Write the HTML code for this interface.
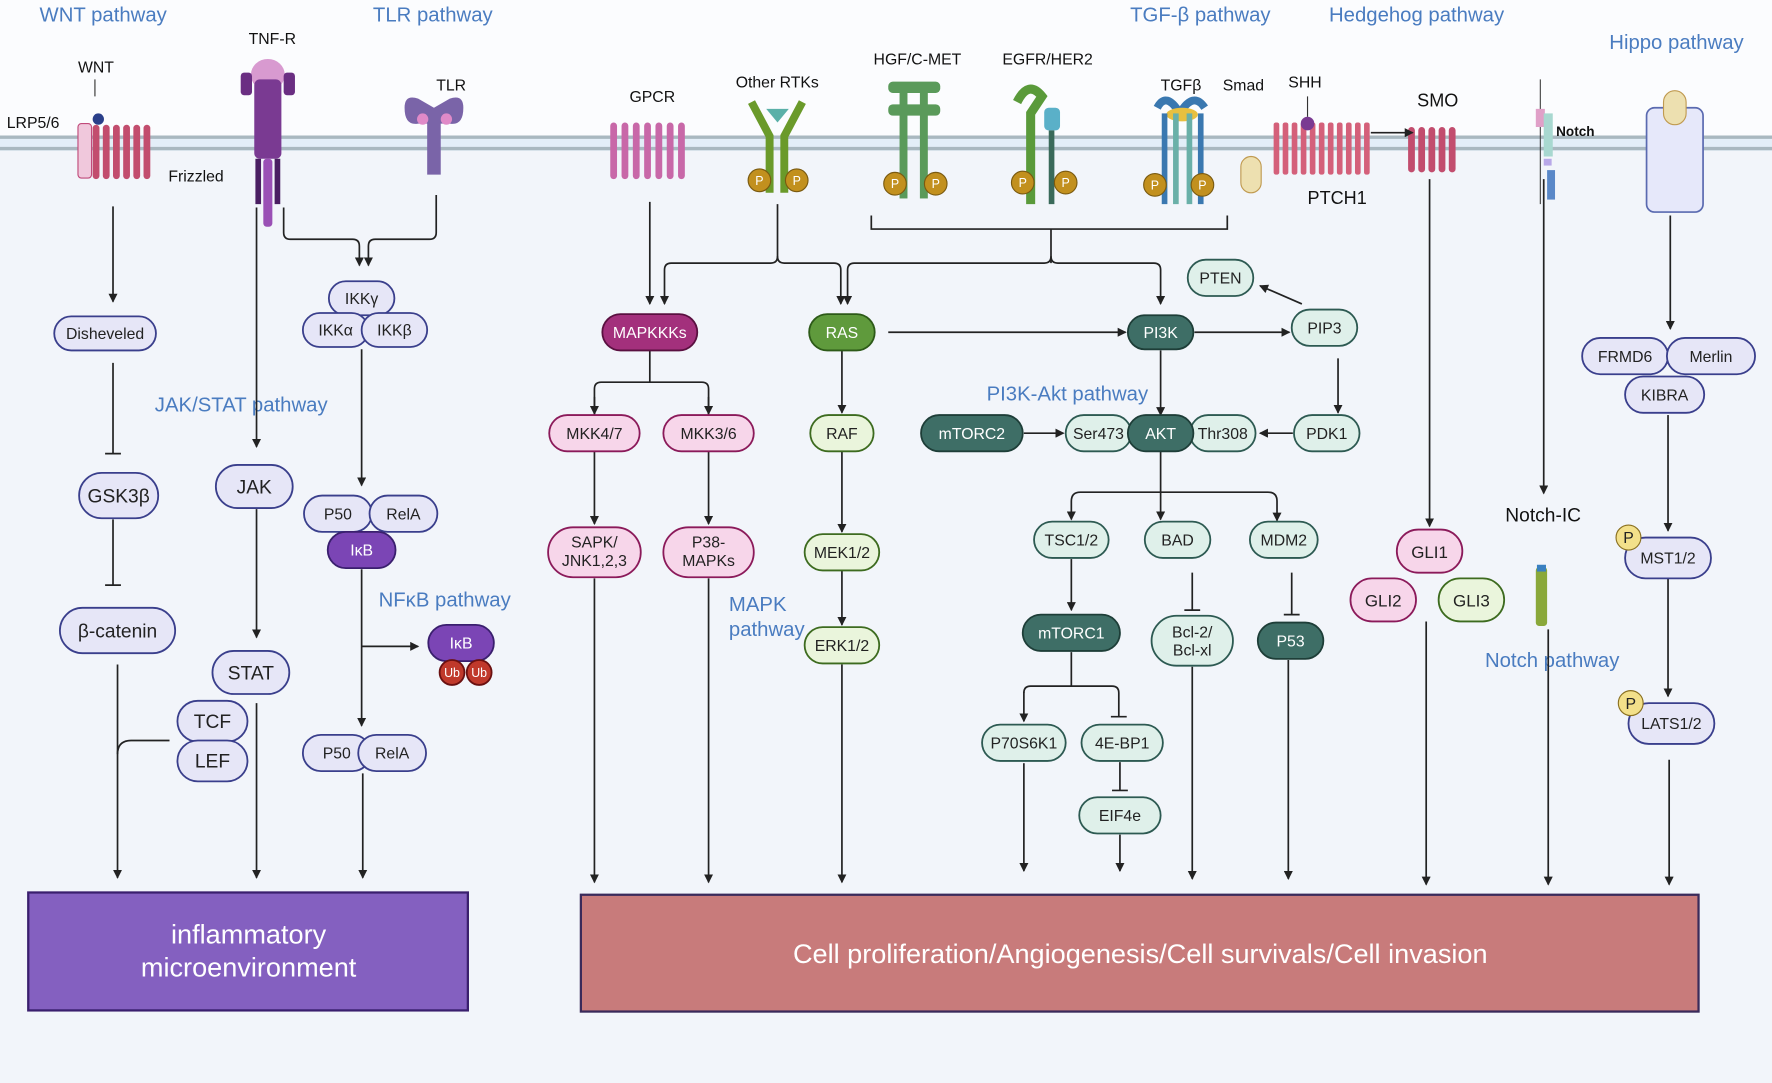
<!DOCTYPE html>
<html><head><meta charset="utf-8"><style>
html,body{margin:0;padding:0;background:#fff}
svg{display:block}
text{font-family:"Liberation Sans",sans-serif}
</style></head><body>
<svg width="1772" height="1083" viewBox="0 0 1568 955" preserveAspectRatio="none" xmlns="http://www.w3.org/2000/svg">
<defs>
<marker id="a" markerWidth="8" markerHeight="8" refX="7" refY="4" orient="auto" markerUnits="userSpaceOnUse"><path d="M0,0 L8,4 L0,8 z" fill="#222"/></marker>
</defs>
<rect x="0" y="0" width="1568" height="955" fill="#fbfcfe"/>
<rect x="0" y="131" width="1568" height="824" fill="#f2f5fa"/>
<rect x="0" y="121" width="1568" height="12" fill="#e3eef8"/>
<line x1="0" y1="121" x2="1568" y2="121" stroke="#a9b8c0" stroke-width="3"/>
<line x1="0" y1="131" x2="1568" y2="131" stroke="#a9b8c0" stroke-width="3"/>

<!-- pathway titles -->
<g fill="#4a7cc0" font-size="18">
<text x="35" y="19">WNT pathway</text>
<text x="330" y="19">TLR  pathway</text>
<text x="1000" y="19">TGF-β  pathway</text>
<text x="1176" y="19">Hedgehog pathway</text>
<text x="1424" y="43">Hippo pathway</text>
<text x="137" y="363">JAK/STAT  pathway</text>
<text x="335" y="535">NFκB  pathway</text>
<text x="645" y="539">MAPK</text>
<text x="645" y="561">pathway</text>
<text x="873" y="353">PI3K-Akt pathway</text>
<text x="1314" y="588">Notch  pathway</text>
</g>
<g fill="#111" font-size="14">
<text x="69" y="64">WNT</text>
<text x="220" y="39">TNF-R</text>
<text x="6" y="113">LRP5/6</text>
<text x="149" y="160">Frizzled</text>
<text x="386" y="80">TLR</text>
<text x="557" y="90">GPCR</text>
<text x="651" y="77">Other RTKs</text>
<text x="773" y="57">HGF/C-MET</text>
<text x="887" y="57">EGFR/HER2</text>
<text x="1027" y="80">TGFβ</text>
<text x="1082" y="80">Smad</text>
<text x="1140" y="77">SHH</text>
<text x="1254" y="94" font-size="16">SMO</text>
<text x="1157" y="180" font-size="16">PTCH1</text>
<text x="1377" y="120" font-size="12" font-weight="bold">Notch</text>
<text x="1469" y="139" font-size="15">FAT</text>
<text x="1471" y="156" font-size="15">1-4</text>
<text x="1332" y="460" font-size="17">Notch-IC</text>
</g>

<!-- receptors (simplified) -->
<g>
<rect x="69" y="109" width="12" height="48" rx="3" fill="#f0c8dc" stroke="#c04a7a"/>
<g fill="#c24d6e"><rect x="82" y="110" width="6" height="48" rx="3"/><rect x="91" y="110" width="6" height="48" rx="3"/><rect x="100" y="110" width="6" height="48" rx="3"/><rect x="109" y="110" width="6" height="48" rx="3"/><rect x="118" y="110" width="6" height="48" rx="3"/><rect x="127" y="110" width="6" height="48" rx="3"/></g>
<circle cx="87" cy="105" r="5" fill="#2a3f8a"/>
<line x1="84" y1="70" x2="84" y2="85" stroke="#333"/>
<ellipse cx="237" cy="66" rx="15" ry="14" fill="#d89ad0"/>
<rect x="225" y="70" width="24" height="70" rx="5" fill="#7a3a92"/>
<rect x="213" y="64" width="10" height="20" rx="3" fill="#6a2e82"/><rect x="251" y="64" width="10" height="20" rx="3" fill="#6a2e82"/>
<rect x="226" y="140" width="5" height="40" fill="#4a1e62"/><rect x="243" y="140" width="5" height="40" fill="#4a1e62"/><rect x="233" y="140" width="8" height="60" rx="3" fill="#9a50b5"/>
<path d="M358,95 q0,-12 12,-8 l14,8 l14,-8 q12,-4 12,8 q0,16 -12,14 l-8,0 l0,45 l-12,0 l0,-45 l-8,0 q-12,2 -12,-14z" fill="#7a64a8"/>
<circle cx="374" cy="105" r="5" fill="#e08ac8"/><circle cx="395" cy="105" r="5" fill="#e08ac8"/>
<g fill="#c868a8"><rect x="540" y="108" width="6" height="50" rx="3"/><rect x="550" y="108" width="6" height="50" rx="3"/><rect x="560" y="108" width="6" height="50" rx="3"/><rect x="570" y="108" width="6" height="50" rx="3"/><rect x="580" y="108" width="6" height="50" rx="3"/><rect x="590" y="108" width="6" height="50" rx="3"/><rect x="600" y="108" width="6" height="50" rx="3"/></g>
<path d="M665,90 l16,30 l0,50 M710,90 l-16,30 l0,50" stroke="#6a9a2a" stroke-width="7" fill="none"/>
<path d="M678,96 l20,0 l-10,12z" fill="#5ab0a8"/>
<circle cx="672" cy="159" r="10" fill="#c2901e" stroke="#7a5a10"/><circle cx="705" cy="159" r="10" fill="#c2901e" stroke="#7a5a10"/>
<g fill="#5a9a5a"><rect x="786" y="72" width="46" height="10" rx="4"/><rect x="786" y="92" width="46" height="10" rx="4"/><rect x="796" y="80" width="7" height="95"/><rect x="814" y="80" width="7" height="95"/></g>
<circle cx="792" cy="162" r="10" fill="#c2901e" stroke="#7a5a10"/><circle cx="828" cy="162" r="10" fill="#c2901e" stroke="#7a5a10"/>
<path d="M900,90 q10,-20 22,-5 l-10,15 l0,80" stroke="#5a9a3a" stroke-width="8" fill="none"/>
<rect x="924" y="95" width="14" height="20" rx="4" fill="#5ab0c8"/><rect x="928" y="115" width="5" height="65" fill="#3a6a5a"/>
<circle cx="905" cy="161" r="10" fill="#c2901e" stroke="#7a5a10"/><circle cx="943" cy="161" r="10" fill="#c2901e" stroke="#7a5a10"/>
<path d="M1024,95 q8,-15 20,5 q12,-20 22,-5" stroke="#3a78b0" stroke-width="7" fill="none"/>
<ellipse cx="1046" cy="101" rx="14" ry="6" fill="#e8c040"/>
<g fill="#3a78b0"><rect x="1028" y="100" width="5" height="80"/><rect x="1060" y="100" width="5" height="80"/></g><g fill="#6ab0a8"><rect x="1038" y="100" width="5" height="80"/><rect x="1050" y="100" width="5" height="80"/></g>
<circle cx="1022" cy="163" r="10" fill="#c2901e" stroke="#7a5a10"/><circle cx="1064" cy="163" r="10" fill="#c2901e" stroke="#7a5a10"/>
<rect x="1098" y="138" width="18" height="32" rx="9" fill="#ede0b0" stroke="#c09a50"/>
<g fill="#d4607a"><rect x="1127" y="108" width="5" height="46" rx="2"/><rect x="1135" y="108" width="5" height="46" rx="2"/><rect x="1143" y="108" width="5" height="46" rx="2"/><rect x="1151" y="108" width="5" height="46" rx="2"/><rect x="1159" y="108" width="5" height="46" rx="2"/><rect x="1167" y="108" width="5" height="46" rx="2"/><rect x="1175" y="108" width="5" height="46" rx="2"/><rect x="1183" y="108" width="5" height="46" rx="2"/><rect x="1191" y="108" width="5" height="46" rx="2"/><rect x="1199" y="108" width="5" height="46" rx="2"/><rect x="1207" y="108" width="5" height="46" rx="2"/></g>
<circle cx="1157" cy="109" r="6" fill="#7a3a92"/><line x1="1157" y1="85" x2="1157" y2="103" stroke="#333"/>
<g fill="#c24d6e"><rect x="1246" y="112" width="6" height="40" rx="3"/><rect x="1255" y="112" width="6" height="40" rx="3"/><rect x="1264" y="112" width="6" height="40" rx="3"/><rect x="1273" y="112" width="6" height="40" rx="3"/><rect x="1282" y="112" width="6" height="40" rx="3"/></g>
<line x1="1213" y1="117" x2="1250" y2="117" stroke="#222" stroke-width="1.5" marker-end="url(#a)"/>
<line x1="1363" y1="70" x2="1363" y2="180" stroke="#444"/>
<rect x="1359" y="96" width="8" height="16" fill="#e0a0c8"/><rect x="1366" y="100" width="8" height="38" fill="#a8d8d0"/><rect x="1366" y="140" width="7" height="6" fill="#b8a8e8"/><rect x="1369" y="150" width="7" height="26" fill="#5a88c8"/>
<rect x="1457" y="95" width="50" height="92" rx="7" fill="#e6e8fa" stroke="#5a6ab0" stroke-width="1.5"/>
<rect x="1472" y="80" width="20" height="30" rx="10" fill="#ede0b0" stroke="#c09a50"/>
<rect x="1359" y="500" width="10" height="52" rx="3" fill="#8aa83a"/><rect x="1360" y="498" width="8" height="6" fill="#3a80c0"/>
</g>
<g fill="#fff" font-size="11" text-anchor="middle"><text x="672" y="163">P</text><text x="705" y="163">P</text><text x="792" y="166">P</text><text x="828" y="166">P</text><text x="905" y="165">P</text><text x="943" y="165">P</text><text x="1022" y="167">P</text><text x="1064" y="167">P</text></g>

<!-- connectors -->
<g stroke="#222" stroke-width="1.5" fill="none">
<line x1="100" y1="182" x2="100" y2="266" marker-end="url(#a)"/>
<path d="M100,320 L100,400 M93,400 L107,400"/>
<path d="M100,458 L100,516 M93,516 L107,516"/>
<line x1="104" y1="586" x2="104" y2="774" marker-end="url(#a)"/>
<path d="M150,653 L116,653 Q104,653 104,665"/>
<line x1="227" y1="183" x2="227" y2="394" marker-end="url(#a)"/>
<line x1="227" y1="449" x2="227" y2="562" marker-end="url(#a)"/>
<line x1="227" y1="620" x2="227" y2="774" marker-end="url(#a)"/>
<path d="M251,183 L251,205 Q251,211 257,211 L312,211 Q318,211 318,217 L318,234" marker-end="url(#a)"/>
<path d="M386,172 L386,205 Q386,211 380,211 L332,211 Q326,211 326,217 L326,234" marker-end="url(#a)"/>
<line x1="320" y1="308" x2="320" y2="428" marker-end="url(#a)"/>
<line x1="320" y1="502" x2="320" y2="640" marker-end="url(#a)"/>
<line x1="320" y1="570" x2="370" y2="570" marker-end="url(#a)"/>
<line x1="321" y1="682" x2="321" y2="774" marker-end="url(#a)"/>
<line x1="575" y1="178" x2="575" y2="268" marker-end="url(#a)"/>
<path d="M688,180 L688,226 Q688,232 682,232 L594,232 Q588,232 588,238 L588,268" marker-end="url(#a)"/>
<path d="M688,226 Q688,232 694,232 L738,232 Q744,232 744,238 L744,268" marker-end="url(#a)"/>
<path d="M771,190 L771,202 L1086,202 L1086,190"/>
<path d="M930,202 L930,232 M930,226 Q930,232 924,232 L756,232 Q750,232 750,238 L750,268" marker-end="url(#a)"/>
<path d="M930,226 Q930,232 936,232 L1021,232 Q1027,232 1027,238 L1027,268" marker-end="url(#a)"/>
<path d="M575,309 L575,337 M526,366 L526,343 Q526,337 532,337 L621,337 Q627,337 627,343 L627,366"/>
<line x1="526" y1="350" x2="526" y2="365" marker-end="url(#a)"/>
<line x1="627" y1="350" x2="627" y2="365" marker-end="url(#a)"/>
<line x1="526" y1="398" x2="526" y2="462" marker-end="url(#a)"/>
<line x1="627" y1="398" x2="627" y2="462" marker-end="url(#a)"/>
<line x1="526" y1="510" x2="526" y2="778" marker-end="url(#a)"/>
<line x1="627" y1="510" x2="627" y2="778" marker-end="url(#a)"/>
<line x1="745" y1="309" x2="745" y2="364" marker-end="url(#a)"/>
<line x1="745" y1="398" x2="745" y2="469" marker-end="url(#a)"/>
<line x1="745" y1="503" x2="745" y2="551" marker-end="url(#a)"/>
<line x1="745" y1="586" x2="745" y2="778" marker-end="url(#a)"/>
<line x1="786" y1="293" x2="996" y2="293" marker-end="url(#a)"/>
<line x1="1057" y1="293" x2="1141" y2="293" marker-end="url(#a)"/>
<line x1="1152" y1="268" x2="1115" y2="252" marker-end="url(#a)"/>
<line x1="1184" y1="316" x2="1184" y2="364" marker-end="url(#a)"/>
<line x1="1144" y1="382" x2="1115" y2="382" marker-end="url(#a)"/>
<line x1="906" y1="382" x2="941" y2="382" marker-end="url(#a)"/>
<line x1="1027" y1="309" x2="1027" y2="366" marker-end="url(#a)"/>
<path d="M1027,398 L1027,434 M1027,434 L956,434 Q948,434 948,442 L948,458" marker-end="url(#a)"/>
<line x1="1027" y1="434" x2="1027" y2="458" marker-end="url(#a)"/>
<path d="M1027,434 L1122,434 Q1130,434 1130,442 L1130,459" marker-end="url(#a)"/>
<line x1="948" y1="493" x2="948" y2="538" marker-end="url(#a)"/>
<path d="M1055,505 L1055,538 M1048,538 L1062,538"/>
<path d="M1143,505 L1143,542 M1136,542 L1150,542"/>
<path d="M948,575 L948,605 M912,605 L984,605 Q990,605 990,611 L990,632 M983,632 L997,632 M912,605 Q906,605 906,611"/>
<line x1="906" y1="610" x2="906" y2="636" marker-end="url(#a)"/>
<path d="M991,672 L991,697 M984,697 L998,697"/>
<line x1="991" y1="736" x2="991" y2="768" marker-end="url(#a)"/>
<line x1="906" y1="673" x2="906" y2="768" marker-end="url(#a)"/>
<line x1="1055" y1="588" x2="1055" y2="775" marker-end="url(#a)"/>
<line x1="1140" y1="582" x2="1140" y2="775" marker-end="url(#a)"/>
<line x1="1265" y1="158" x2="1265" y2="464" marker-end="url(#a)"/>
<line x1="1262" y1="548" x2="1262" y2="780" marker-end="url(#a)"/>
<line x1="1366" y1="158" x2="1366" y2="435" marker-end="url(#a)"/>
<line x1="1370" y1="555" x2="1370" y2="780" marker-end="url(#a)"/>
<line x1="1478" y1="190" x2="1478" y2="290" marker-end="url(#a)"/>
<line x1="1476" y1="366" x2="1476" y2="468" marker-end="url(#a)"/>
<line x1="1476" y1="510" x2="1476" y2="614" marker-end="url(#a)"/>
<line x1="1477" y1="670" x2="1477" y2="780" marker-end="url(#a)"/>
</g>

<!-- nodes -->
<g font-size="14" text-anchor="middle" stroke-width="1.6">
<!-- lavender -->
<g fill="#e6e6f7" stroke="#3a3f8c">
<rect x="48" y="279" width="90" height="30" rx="15"/>
<rect x="70" y="417" width="70" height="40" rx="20"/>
<rect x="53" y="536" width="102" height="40" rx="20"/>
<rect x="191" y="410" width="68" height="38" rx="19"/>
<rect x="188" y="574" width="68" height="38" rx="19"/>
<rect x="157" y="618" width="62" height="36" rx="18"/>
<rect x="157" y="653" width="62" height="36" rx="18"/>
<rect x="291" y="248" width="58" height="30" rx="15"/>
<rect x="268" y="276" width="58" height="30" rx="15"/>
<rect x="320" y="276" width="58" height="30" rx="15"/>
<rect x="269" y="437" width="60" height="32" rx="16"/>
<rect x="327" y="437" width="60" height="32" rx="16"/>
<rect x="268" y="648" width="60" height="32" rx="16"/>
<rect x="317" y="648" width="60" height="32" rx="16"/>
<rect x="1400" y="298" width="76" height="32" rx="16"/>
<rect x="1475" y="298" width="78" height="32" rx="16"/>
<rect x="1438" y="332" width="70" height="32" rx="16"/>
<rect x="1438" y="474" width="76" height="36" rx="18"/>
<rect x="1441" y="620" width="76" height="36" rx="18"/>
</g>
<g fill="#7b45b5" stroke="#3a1f6e"><rect x="290" y="469" width="60" height="32" rx="16"/><rect x="379" y="551" width="58" height="32" rx="16"/></g>
<g fill="#c0392b" stroke="#6a1010"><circle cx="400" cy="593" r="11"/><circle cx="424" cy="593" r="11"/></g>
<!-- pink -->
<g fill="#f7d6ea" stroke="#8b1a5a">
<rect x="486" y="366" width="80" height="32" rx="16"/>
<rect x="587" y="366" width="80" height="32" rx="16"/>
<rect x="485" y="465" width="82" height="44" rx="22"/>
<rect x="587" y="465" width="80" height="44" rx="22"/>
<rect x="1236" y="467" width="58" height="38" rx="19"/>
<rect x="1195" y="510" width="58" height="38" rx="19"/>
</g>
<rect x="533" y="277" width="84" height="32" rx="16" fill="#a3307c" stroke="#5a1040"/>
<!-- green -->
<rect x="716" y="277" width="58" height="32" rx="16" fill="#5f9a3c" stroke="#2d5a18"/>
<g fill="#eaf5dc" stroke="#3d6b1f">
<rect x="717" y="366" width="56" height="32" rx="16"/>
<rect x="712" y="471" width="66" height="32" rx="16"/>
<rect x="712" y="553" width="66" height="32" rx="16"/>
<rect x="1273" y="510" width="58" height="38" rx="19"/>
</g>
<!-- teal -->
<g fill="#3e6e66" stroke="#1e3e38">
<rect x="998" y="278" width="58" height="30" rx="15"/>
<rect x="815" y="366" width="90" height="32" rx="16"/>
<rect x="905" y="542" width="86" height="32" rx="16"/>
<rect x="1113" y="549" width="58" height="32" rx="16"/>
</g>
<g fill="#dff0ea" stroke="#2d5a52">
<rect x="1143" y="273" width="58" height="32" rx="16"/>
<rect x="1051" y="229" width="58" height="32" rx="16"/>
<rect x="1145" y="366" width="58" height="32" rx="16"/>
<rect x="943" y="366" width="58" height="32" rx="16"/>
<rect x="1053" y="366" width="58" height="32" rx="16"/>
<rect x="915" y="460" width="66" height="32" rx="16"/>
<rect x="1013" y="460" width="58" height="32" rx="16"/>
<rect x="1106" y="460" width="60" height="32" rx="16"/>
<rect x="1019" y="543" width="72" height="44" rx="22"/>
<rect x="869" y="639" width="74" height="32" rx="16"/>
<rect x="957" y="639" width="72" height="32" rx="16"/>
<rect x="955" y="703" width="72" height="32" rx="16"/>
</g>
<rect x="998" y="366" width="58" height="32" rx="16" fill="#3e6e66" stroke="#1e3e38"/>
<g fill="#f3e08a" stroke="#8a7020" stroke-width="1"><circle cx="1441" cy="474" r="11"/><circle cx="1443" cy="620" r="11"/></g>

<g fill="#222" stroke="none">
<text x="93" y="299">Disheveled</text>
<text x="105" y="443" font-size="17">GSK3β</text>
<text x="104" y="562" font-size="17">β-catenin</text>
<text x="225" y="435" font-size="17">JAK</text>
<text x="222" y="599" font-size="17">STAT</text>
<text x="188" y="642" font-size="17">TCF</text>
<text x="188" y="677" font-size="17">LEF</text>
<text x="320" y="268">IKKγ</text>
<text x="297" y="296">IKKα</text>
<text x="349" y="296">IKKβ</text>
<text x="299" y="458">P50</text>
<text x="357" y="458">RelA</text>
<text x="298" y="669">P50</text>
<text x="347" y="669">RelA</text>
<text x="526" y="387">MKK4/7</text>
<text x="627" y="387">MKK3/6</text>
<text x="526" y="483">SAPK/</text><text x="526" y="499">JNK1,2,3</text>
<text x="627" y="483">P38-</text><text x="627" y="499">MAPKs</text>
<text x="745" y="387">RAF</text>
<text x="745" y="492">MEK1/2</text>
<text x="745" y="574">ERK1/2</text>
<text x="1172" y="294">PIP3</text>
<text x="1080" y="250">PTEN</text>
<text x="1174" y="387">PDK1</text>
<text x="972" y="387">Ser473</text>
<text x="1082" y="387">Thr308</text>
<text x="948" y="481">TSC1/2</text>
<text x="1042" y="481">BAD</text>
<text x="1136" y="481">MDM2</text>
<text x="1055" y="562">Bcl-2/</text><text x="1055" y="578">Bcl-xl</text>
<text x="906" y="660">P70S6K1</text>
<text x="993" y="660">4E-BP1</text>
<text x="991" y="724">EIF4e</text>
<text x="1265" y="492" font-size="15">GLI1</text>
<text x="1224" y="535" font-size="15">GLI2</text>
<text x="1302" y="535" font-size="15">GLI3</text>
<text x="1438" y="319">FRMD6</text>
<text x="1514" y="319">Merlin</text>
<text x="1473" y="353">KIBRA</text>
<text x="1476" y="497">MST1/2</text>
<text x="1479" y="643">LATS1/2</text>
<text x="1441" y="479">P</text>
<text x="1443" y="625">P</text>
</g>
<g fill="#fff" stroke="none">
<text x="320" y="490">IκB</text>
<text x="408" y="572">IκB</text>
<text x="400" y="597" font-size="11">Ub</text>
<text x="424" y="597" font-size="11">Ub</text>
<text x="575" y="298">MAPKKKs</text>
<text x="745" y="298">RAS</text>
<text x="1027" y="298">PI3K</text>
<text x="860" y="387">mTORC2</text>
<text x="1027" y="387">AKT</text>
<text x="948" y="563">mTORC1</text>
<text x="1142" y="570">P53</text>
</g>
</g>

<!-- output boxes -->
<rect x="25" y="787" width="389" height="104" fill="#8460c0" stroke="#3a1f6e" stroke-width="2"/>
<text x="220" y="832" fill="#fff" font-size="24" text-anchor="middle">inflammatory</text>
<text x="220" y="861" fill="#fff" font-size="24" text-anchor="middle">microenvironment</text>
<rect x="514" y="789" width="989" height="103" fill="#c87b7b" stroke="#3a2a5a" stroke-width="2"/>
<text x="1009" y="849" fill="#fff" font-size="24" text-anchor="middle">Cell proliferation/Angiogenesis/Cell survivals/Cell invasion</text>
</svg>
</body></html>
